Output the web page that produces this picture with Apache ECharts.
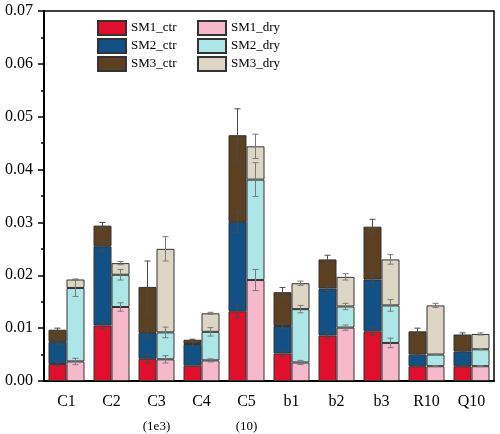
<!DOCTYPE html>
<html>
<head>
<meta charset="utf-8">
<script src="https://cdn.jsdelivr.net/npm/echarts@6/dist/echarts.min.js"></script>
<style>
  html, body { margin: 0; padding: 0; background: #fff; }
  #chart { width: 500px; height: 434px; }
</style>
</head>
<body>
<div id="chart"></div>
<script>
// categories along x
const categories = ['C1', 'C2', 'C3', 'C4', 'C5', 'b1', 'b2', 'b3', 'R10', 'Q10'];
const subLabels = { C3: '(1e3)', C5: '(10)' };
const yTicks = [0, 0.01, 0.02, 0.03, 0.04, 0.05, 0.06, 0.07];

// stacked segment values (not cumulative)
const sm1Ctr = [0.0032, 0.0105, 0.0042, 0.0029, 0.0132, 0.0052, 0.0086, 0.0094, 0.0028, 0.0028];
const sm2Ctr = [0.0042, 0.0150, 0.0049, 0.0041, 0.0169, 0.0052, 0.0089, 0.0098, 0.0022, 0.0028];
const sm3Ctr = [0.0023, 0.0039, 0.0087, 0.0008, 0.0164, 0.0064, 0.0055, 0.0100, 0.0044, 0.0032];
const sm1Dry = [0.0037, 0.0140, 0.0041, 0.0039, 0.0191, 0.0035, 0.0101, 0.0072, 0.0028, 0.0028];
const sm2Dry = [0.0139, 0.0061, 0.0051, 0.0054, 0.0190, 0.0101, 0.0040, 0.0071, 0.0022, 0.0032];
const sm3Dry = [0.0016, 0.0022, 0.0158, 0.0035, 0.0063, 0.0049, 0.0056, 0.0087, 0.0093, 0.0029];

// error (+/-) at the top of each segment
const sm1CtrErr = [0.0004, 0.0006, 0.0008, 0.0002, 0.0012, 0.0005, 0.0005, 0.0008, 0.0001, 0.0001];
const sm2CtrErr = [0.0005, 0.0010, 0.0008, 0.0004, 0.0020, 0.0005, 0.0004, 0.0013, 0.0001, 0.0001];
const sm3CtrErr = [0.0003, 0.0006, 0.0049, 0.0001, 0.0050, 0.0009, 0.0008, 0.0014, 0.0006, 0.0003];
const sm1DryErr = [0.0006, 0.0008, 0.0007, 0.0003, 0.0020, 0.0004, 0.0005, 0.0009, 0.0001, 0.0001];
const sm2DryErr = [0.0016, 0.0010, 0.0010, 0.0008, 0.0032, 0.0007, 0.0006, 0.0011, 0.0001, 0.0001];
const sm3DryErr = [0.0001, 0.0003, 0.0023, 0.0002, 0.0023, 0.0004, 0.0006, 0.0009, 0.0004, 0.0002];

const FONT = '"Liberation Serif", "DejaVu Serif", serif';

const groups = [
  { stack: 'ctr', side: -1, errColor: '#4a4a4a', items: [
    { name: 'SM1_ctr', data: sm1Ctr, err: sm1CtrErr, color: '#e0102c' },
    { name: 'SM2_ctr', data: sm2Ctr, err: sm2CtrErr, color: '#115185' },
    { name: 'SM3_ctr', data: sm3Ctr, err: sm3CtrErr, color: '#5b4122' }
  ]},
  { stack: 'dry', side: 1, errColor: '#7a7a7a', items: [
    { name: 'SM1_dry', data: sm1Dry, err: sm1DryErr, color: '#f6b9cc' },
    { name: 'SM2_dry', data: sm2Dry, err: sm2DryErr, color: '#ade6e6' },
    { name: 'SM3_dry', data: sm3Dry, err: sm3DryErr, color: '#ded6c5' }
  ]}
];

const series = [];
const errSeries = [];
groups.forEach(g => {
  const running = categories.map(() => 0);
  g.items.forEach(it => {
    series.push({
      name: it.name,
      type: 'bar',
      stack: g.stack,
      barWidth: '40%',
      barGap: '0%',
      data: it.data,
      itemStyle: { color: it.color, borderColor: '#333', borderWidth: 1 }
    });
    const pts = it.data.map((v, i) => {
      running[i] += v;
      return [i, running[i], it.err[i]];
    });
    errSeries.push({
      type: 'custom',
      z: 10,
      silent: true,
      data: pts,
      renderItem: function (params, api) {
        const idx = api.value(0);
        const top = api.value(1);
        const e = api.value(2);
        const band = api.size([1, 0])[0];
        const hi = api.coord([idx, top + e]);
        const lo = api.coord([idx, top - e]);
        const x = hi[0] + g.side * band * 0.2;
        const cap = 3;
        const style = { stroke: g.errColor, lineWidth: 1 };
        return {
          type: 'group',
          children: [
            { type: 'line', shape: { x1: x, y1: hi[1], x2: x, y2: lo[1] }, style: style },
            { type: 'line', shape: { x1: x - cap, y1: hi[1], x2: x + cap, y2: hi[1] }, style: style },
            { type: 'line', shape: { x1: x - cap, y1: lo[1], x2: x + cap, y2: lo[1] }, style: style }
          ]
        };
      }
    });
  });
});

const legendCommon = {
  orient: 'vertical',
  top: 20,
  padding: 0,
  itemWidth: 28,
  itemHeight: 14,
  itemGap: 2,
  icon: 'rect',
  textStyle: { fontFamily: FONT, fontSize: 13, color: '#000' }
};

const chart = echarts.init(document.getElementById('chart'));
chart.setOption({
  animation: false,
  backgroundColor: '#fff',
  grid: {
    left: 44, right: 6, top: 11, bottom: 53, outerBoundsMode: 'none',
    show: true, borderColor: '#000', borderWidth: 1.5, backgroundColor: 'transparent'
  },
  legend: [
    Object.assign({}, legendCommon, { left: 97, data: ['SM1_ctr', 'SM2_ctr', 'SM3_ctr'] }),
    Object.assign({}, legendCommon, { left: 197, data: ['SM1_dry', 'SM2_dry', 'SM3_dry'] })
  ],
  xAxis: [
    {
      type: 'category',
      data: categories,
      position: 'bottom',
      axisLine: { lineStyle: { color: '#000', width: 2 } },
      axisTick: { alignWithLabel: true, interval: 0, length: 6, lineStyle: { color: '#000', width: 1.5 } },
      axisLabel: {
        interval: 0,
        fontFamily: FONT, fontSize: 16, color: '#000', margin: 13,
        formatter: function (v) {
          return subLabels[v] ? v + '\n{s|' + subLabels[v] + '}' : v;
        },
        rich: { s: { fontFamily: FONT, fontSize: 13, color: '#000', padding: [10, 0, 0, 0] } }
      }
    },
    {
      type: 'category',
      data: categories,
      position: 'bottom',
      offset: 0,
      axisLine: { show: false },
      axisTick: { interval: 0, length: 3, lineStyle: { color: '#000', width: 1.5 } },
      axisLabel: { show: false }
    }
  ],
  yAxis: {
    type: 'value',
    min: yTicks[0],
    max: yTicks[yTicks.length - 1],
    interval: 0.01,
    splitLine: { show: false },
    axisLine: { show: true, lineStyle: { color: '#000', width: 2 } },
    axisTick: { show: true, length: 6, lineStyle: { color: '#000', width: 1.5 } },
    minorTick: { show: true, splitNumber: 2, length: 3, lineStyle: { color: '#000', width: 1.5 } },
    axisLabel: {
      fontFamily: FONT, fontSize: 16, color: '#000', margin: 11,
      formatter: v => v.toFixed(2)
    }
  },
  series: series.concat(errSeries)
});
</script>
</body>
</html>
